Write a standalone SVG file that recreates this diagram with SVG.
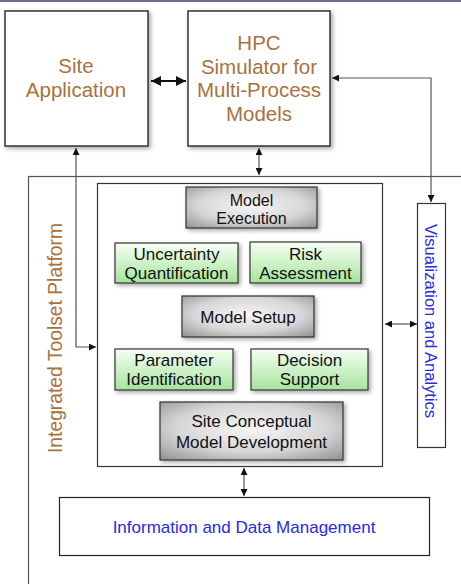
<svg xmlns="http://www.w3.org/2000/svg" width="461" height="584" viewBox="0 0 461 584">
<style>
.bg{fill:#fff}
.big{fill:#fff;stroke:#333;stroke-width:1.5}
.brown{font-family:"Liberation Sans",Arial,sans-serif;font-size:20.5px;fill:#a8723e;text-anchor:middle}
.blk{font-family:"Liberation Sans",Arial,sans-serif;font-size:17px;fill:#111;text-anchor:middle}
.blue{font-family:"Liberation Sans",Arial,sans-serif;font-size:16.5px;fill:#2a2ae0;text-anchor:middle}
.gray{fill:url(#gg);stroke:#333;stroke-width:1.2}
.green{fill:url(#gn);stroke:#333;stroke-width:1.2}
.con{fill:none;stroke:#555;stroke-width:1.2}
.thick{fill:none;stroke:#111;stroke-width:2}
</style>
<defs>
<radialGradient id="gg" cx="0.5" cy="0.45" r="0.75">
<stop offset="0" stop-color="#f6f6f6"/>
<stop offset="0.55" stop-color="#d6d6d6"/>
<stop offset="1" stop-color="#8e8e8e"/>
</radialGradient>
<linearGradient id="gn" x1="0" y1="0" x2="0" y2="1">
<stop offset="0" stop-color="#f6fff4"/>
<stop offset="1" stop-color="#a6e49c"/>
</linearGradient>
<filter id="sh" x="-10%" y="-10%" width="125%" height="125%">
<feDropShadow dx="2" dy="2" stdDeviation="2" flood-color="#000" flood-opacity="0.35"/>
</filter>
<marker id="ah" viewBox="0 0 8 8" refX="8" refY="4" markerWidth="7" markerHeight="7" markerUnits="userSpaceOnUse" orient="auto-start-reverse">
<path d="M0,0 L8,4 L0,8 z" fill="#111"/>
</marker>
<marker id="ahb" viewBox="0 0 8 8" refX="8" refY="4" markerWidth="10" markerHeight="10" markerUnits="userSpaceOnUse" orient="auto-start-reverse">
<path d="M0,0 L8,4 L0,8 z" fill="#111"/>
</marker>
</defs>
<rect class="bg" x="0" y="0" width="461" height="584"/>
<line x1="0" y1="1" x2="461" y2="1" stroke="#6e6e8e" stroke-width="2"/>

<g id="platform">
<rect x="28.5" y="176.5" width="450" height="420" fill="#fff" stroke="#555" stroke-width="1.2"/>
<text class="brown" transform="translate(62,338) rotate(-90)" style="font-size:19.3px">Integrated Toolset Platform</text>
</g>

<g id="site-application">
<rect class="big" x="5" y="11" width="143" height="135" filter="url(#sh)"/>
<text class="brown" x="76" y="73">Site</text>
<text class="brown" x="76" y="97">Application</text>
</g>

<g id="hpc-simulator">
<rect class="big" x="188" y="11" width="142" height="135" filter="url(#sh)"/>
<text class="brown" x="259" y="50">HPC</text>
<text class="brown" x="259" y="74">Simulator for</text>
<text class="brown" x="259" y="97">Multi-Process</text>
<text class="brown" x="259" y="121">Models</text>
</g>

<g id="toolset-core">
<rect x="97.5" y="183.5" width="285" height="283" fill="#fff" stroke="#333" stroke-width="1.2"/>
</g>

<g id="model-execution">
<rect class="gray" x="186" y="187" width="131" height="41" filter="url(#sh)"/>
<text class="blk" x="251.5" y="206" style="font-size:16px">Model</text>
<text class="blk" x="251.5" y="224" style="font-size:16px">Execution</text>
</g>

<g id="uncertainty-quantification">
<rect class="green" x="115" y="243" width="123" height="40" filter="url(#sh)"/>
<text class="blk" x="176.5" y="260">Uncertainty</text>
<text class="blk" x="176.5" y="279">Quantification</text>
</g>

<g id="risk-assessment">
<rect class="green" x="250" y="242" width="111" height="41" filter="url(#sh)"/>
<text class="blk" x="305.5" y="260">Risk</text>
<text class="blk" x="305.5" y="279">Assessment</text>
</g>

<g id="model-setup">
<rect class="gray" x="182" y="296" width="132" height="41" filter="url(#sh)"/>
<text class="blk" x="248" y="323">Model Setup</text>
</g>

<g id="parameter-identification">
<rect class="green" x="115" y="349" width="118" height="41" filter="url(#sh)"/>
<text class="blk" x="174" y="366">Parameter</text>
<text class="blk" x="174" y="385">Identification</text>
</g>

<g id="decision-support">
<rect class="green" x="251" y="349" width="117" height="41" filter="url(#sh)"/>
<text class="blk" x="309.5" y="366">Decision</text>
<text class="blk" x="309.5" y="385">Support</text>
</g>

<g id="site-conceptual-model">
<rect class="gray" x="160" y="402" width="183" height="58" filter="url(#sh)"/>
<text class="blk" x="251.5" y="427">Site Conceptual</text>
<text class="blk" x="251.5" y="448">Model Development</text>
</g>

<g id="visualization-analytics">
<rect x="417.5" y="203.5" width="28" height="244" fill="#fff" stroke="#333" stroke-width="1.2"/>
<text class="blue" transform="translate(425,321) rotate(90)">Visualization and Analytics</text>
</g>

<g id="information-data-management">
<rect x="59.5" y="497.5" width="370" height="58" fill="#fff" stroke="#222" stroke-width="1.2"/>
<text class="blue" x="244" y="533" style="font-size:17px">Information and Data Management</text>
</g>

<g id="connectors">
<line class="thick" x1="151" y1="81" x2="186" y2="81" marker-start="url(#ahb)" marker-end="url(#ahb)"/>
<path class="con" d="M332,78 H431 V202" marker-start="url(#ah)" marker-end="url(#ah)"/>
<line class="con" x1="259" y1="148" x2="259" y2="175" marker-start="url(#ah)" marker-end="url(#ah)"/>
<path class="con" d="M76,148 V347 H96" marker-start="url(#ah)" marker-end="url(#ah)"/>
<line class="con" x1="385" y1="324" x2="417" y2="324" marker-start="url(#ah)" marker-end="url(#ah)"/>
<line class="con" x1="244" y1="468" x2="244" y2="496" marker-start="url(#ah)" marker-end="url(#ah)"/>
</g>
</svg>
